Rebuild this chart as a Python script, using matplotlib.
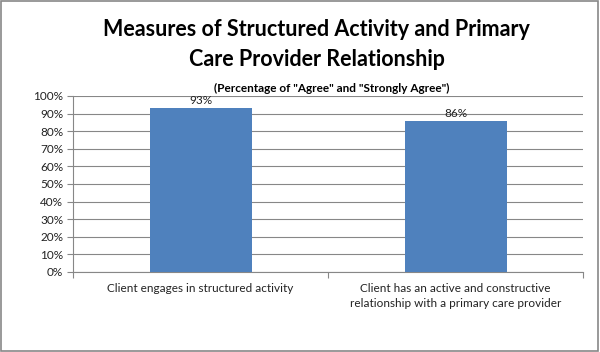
import matplotlib
matplotlib.use("Agg")
import matplotlib.pyplot as plt
from matplotlib.patches import Rectangle

CATEGORIES = [
    "Client engages in structured activity",
    "Client has an active and constructive\nrelationship with a primary care provider",
]
VALUES = [93, 86]
LABELS = ["93%", "86%"]
YTICKS = [0, 10, 20, 30, 40, 50, 60, 70, 80, 90, 100]

BAR_COLOR = "#4F81BD"
GRID_COLOR = "#878787"
FONT = ["Lato", "DejaVu Sans"]


def main():
    plt.rcParams["font.family"] = FONT
    fig = plt.figure(figsize=(6.0, 3.52), dpi=100)
    ax = fig.add_axes([73 / 600, 1 - 272 / 352, 510 / 600, 176 / 352])

    x = list(range(len(CATEGORIES)))
    ax.bar(x, VALUES, width=0.4, color=BAR_COLOR, zorder=3)
    for xi, v, lab in zip(x, VALUES, LABELS):
        ax.text(xi, v + 1.2, lab, ha="center", va="bottom", fontsize=8.5, color="#222222")

    ax.set_xlim(-0.5, len(CATEGORIES) - 0.5)
    ax.set_ylim(0, 100)
    ax.set_yticks(YTICKS)
    ax.set_yticklabels([f"{t}%" for t in YTICKS], fontsize=8.5, color="#222222")
    ax.yaxis.grid(True, color=GRID_COLOR, linewidth=0.8, zorder=0)
    ax.tick_params(axis="y", length=4, width=0.8, color=GRID_COLOR, pad=3)

    ax.set_xticks([-0.5, 0.5, 1.5], minor=False)
    ax.set_xticklabels([])
    ax.set_xticks(x, minor=True)
    ax.set_xticklabels(CATEGORIES, minor=True, fontsize=8.5, color="#222222",
                       linespacing=1.45)
    ax.tick_params(axis="x", which="major", length=4, width=0.8, color=GRID_COLOR)
    ax.tick_params(axis="x", which="minor", length=0, pad=8)

    for side in ["top", "right"]:
        ax.spines[side].set_visible(False)
    ax.spines["left"].set_color(GRID_COLOR)
    ax.spines["bottom"].set_color(GRID_COLOR)
    ax.spines["left"].set_linewidth(0.8)
    ax.spines["bottom"].set_linewidth(0.8)

    fig.text(0.528, 1 - 30 / 352, "Measures of Structured Activity and Primary",
             ha="center", va="center", fontsize=15.5, fontweight="bold")
    fig.text(0.528, 1 - 60 / 352, "Care Provider Relationship",
             ha="center", va="center", fontsize=15.5, fontweight="bold")
    fig.text(0.553, 1 - 88 / 352, '(Percentage of "Agree" and "Strongly Agree")',
             ha="center", va="center", fontsize=8.5, fontweight="bold")

    fig.patches.append(Rectangle((0.002, 0.003), 0.995, 0.994, transform=fig.transFigure,
                                 fill=False, edgecolor="#888888", linewidth=1.2))

    fig.savefig("out.png", dpi=100)
    plt.close(fig)


if __name__ == "__main__":
    main()
